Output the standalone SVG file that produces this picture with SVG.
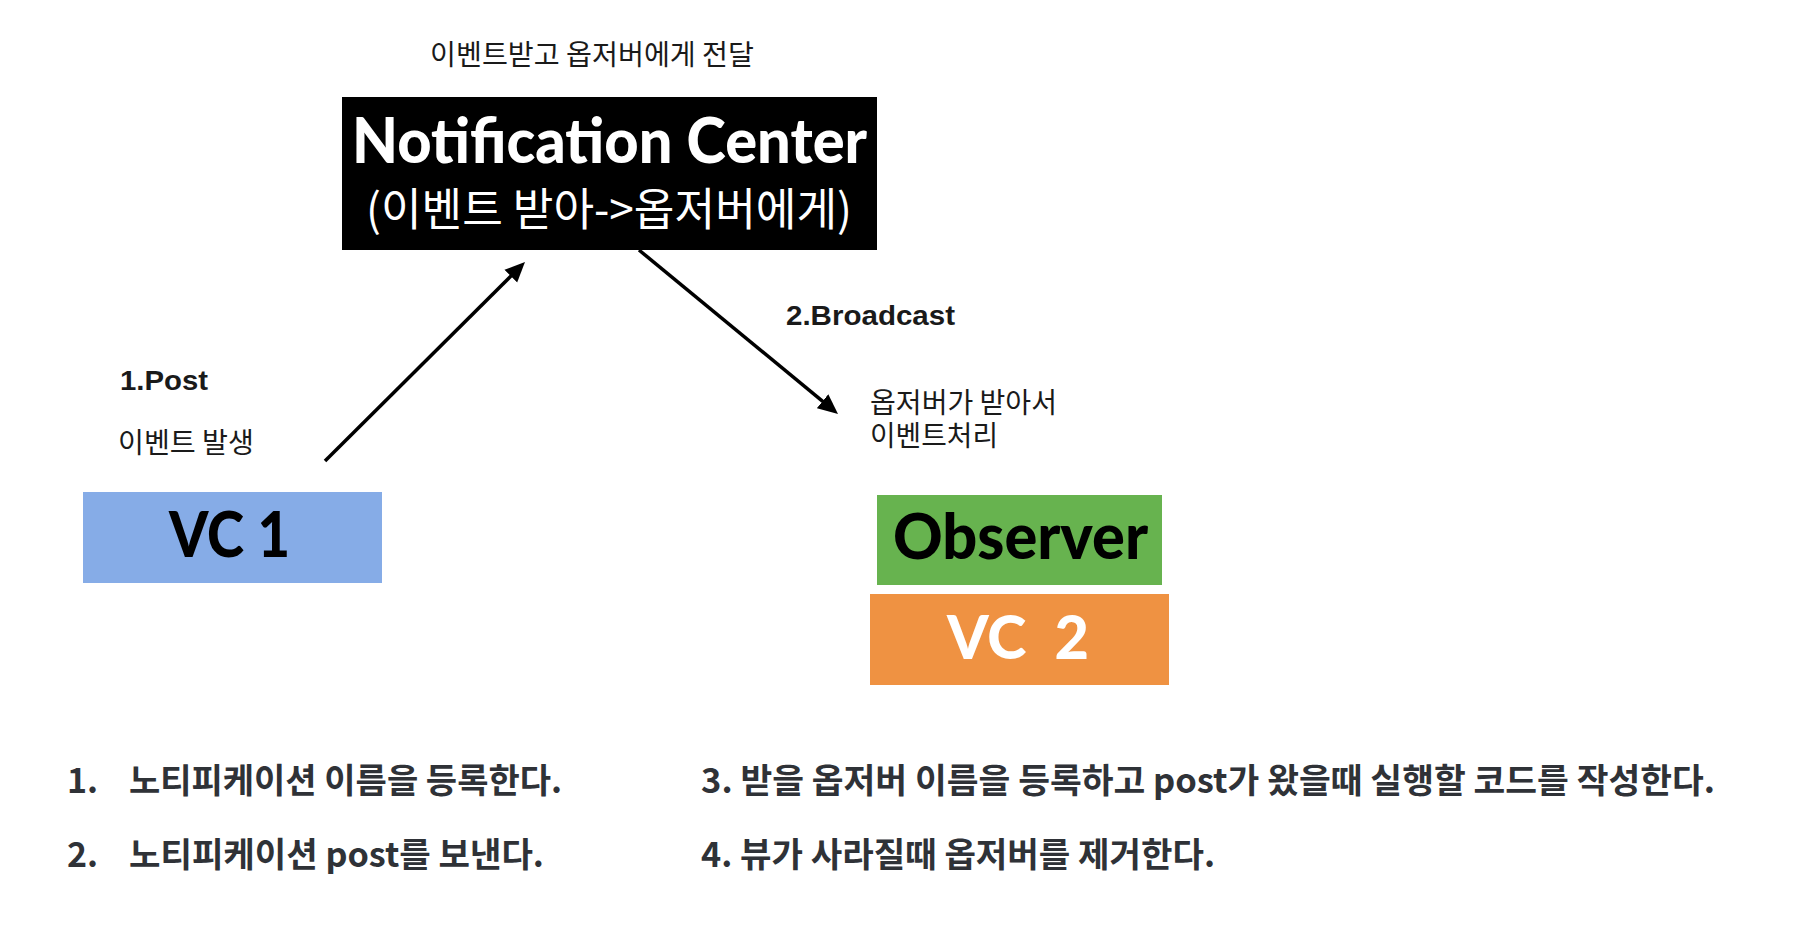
<svg xmlns="http://www.w3.org/2000/svg" width="1816" height="944" viewBox="0 0 1816 944">
<style>
.kr{font-family:"Noto Sans CJK KR","Noto Sans",sans-serif;font-size:28px;fill:#1a1a1a;}
.step{font-family:"Liberation Sans",Arial,sans-serif;font-weight:bold;font-size:28px;fill:#1a1a1a;}
.list{font-family:"Noto Sans CJK KR","Noto Sans",sans-serif;font-weight:bold;font-size:34px;fill:#2f3237;}
.title{font-family:Lato,"Liberation Sans",sans-serif;font-weight:900;}
.arrow{stroke:#000;stroke-width:3.5;fill:none;marker-end:url(#ah);}
</style>
<defs>
<marker id="ah" markerUnits="userSpaceOnUse" markerWidth="20" markerHeight="20" viewBox="0 0 20 20" refX="10" refY="10" orient="auto">
<path d="M0,1 L20,10 L0,19 Z" fill="#000"/>
</marker>
</defs>
<rect width="1816" height="944" fill="#fff"/>

<g id="connectors">
<line class="arrow" x1="325" y1="461" x2="517.9" y2="269.1"/>
<line class="arrow" x1="639" y1="250" x2="830.3" y2="407.6"/>
</g>

<g id="notification-center">
<rect x="342" y="97" width="535" height="153" fill="#000"/>
<text class="title" x="352" y="163" font-size="63" fill="#fff" textLength="515" lengthAdjust="spacingAndGlyphs">Notification Center</text>
<text x="366" y="226" font-family="'Noto Sans CJK KR','Noto Sans',sans-serif" font-size="45" fill="#fff" textLength="486" lengthAdjust="spacingAndGlyphs">(이벤트 받아-&gt;옵저버에게)</text>
</g>

<g id="vc1">
<rect x="83" y="492" width="299" height="91" fill="#86ACE7"/>
<text class="title" x="169" y="557" font-size="62" fill="#000" textLength="121" lengthAdjust="spacingAndGlyphs">VC 1</text>
</g>

<g id="observer">
<rect x="877" y="495" width="285" height="90" fill="#67B34F"/>
<text class="title" x="893" y="559" font-size="62" fill="#000" textLength="255" lengthAdjust="spacingAndGlyphs">Observer</text>
</g>

<g id="vc2">
<rect x="870" y="594" width="299" height="91" fill="#EF9242"/>
<text class="title" x="947" y="659" font-size="60" fill="#fff" xml:space="preserve" textLength="142" lengthAdjust="spacingAndGlyphs">VC  2</text>
</g>

<g id="labels">
<text class="kr" x="430" y="65" textLength="324" lengthAdjust="spacingAndGlyphs">이벤트받고 옵저버에게 전달</text>
<text class="step" x="120" y="390" textLength="88" lengthAdjust="spacingAndGlyphs">1.Post</text>
<text class="kr" x="118" y="453" textLength="136" lengthAdjust="spacingAndGlyphs">이벤트 발생</text>
<text class="step" x="786" y="325" textLength="169" lengthAdjust="spacingAndGlyphs">2.Broadcast</text>
<text class="kr"><tspan x="870" y="413" textLength="187" lengthAdjust="spacingAndGlyphs">옵저버가 받아서</tspan><tspan x="870" y="446" textLength="128" lengthAdjust="spacingAndGlyphs">이벤트처리</tspan></text>
</g>

<g id="notes">
<text class="list" x="67" y="793">1.</text>
<text class="list" x="129" y="793" textLength="433" lengthAdjust="spacingAndGlyphs">노티피케이션 이름을 등록한다.</text>
<text class="list" x="67" y="867">2.</text>
<text class="list" x="129" y="867" textLength="415" lengthAdjust="spacingAndGlyphs">노티피케이션 post를 보낸다.</text>
<text class="list" x="701" y="793" textLength="1014" lengthAdjust="spacingAndGlyphs">3. 받을 옵저버 이름을 등록하고 post가 왔을때 실행할 코드를 작성한다.</text>
<text class="list" x="701" y="867" textLength="514" lengthAdjust="spacingAndGlyphs">4. 뷰가 사라질때 옵저버를 제거한다.</text>
</g>
</svg>
